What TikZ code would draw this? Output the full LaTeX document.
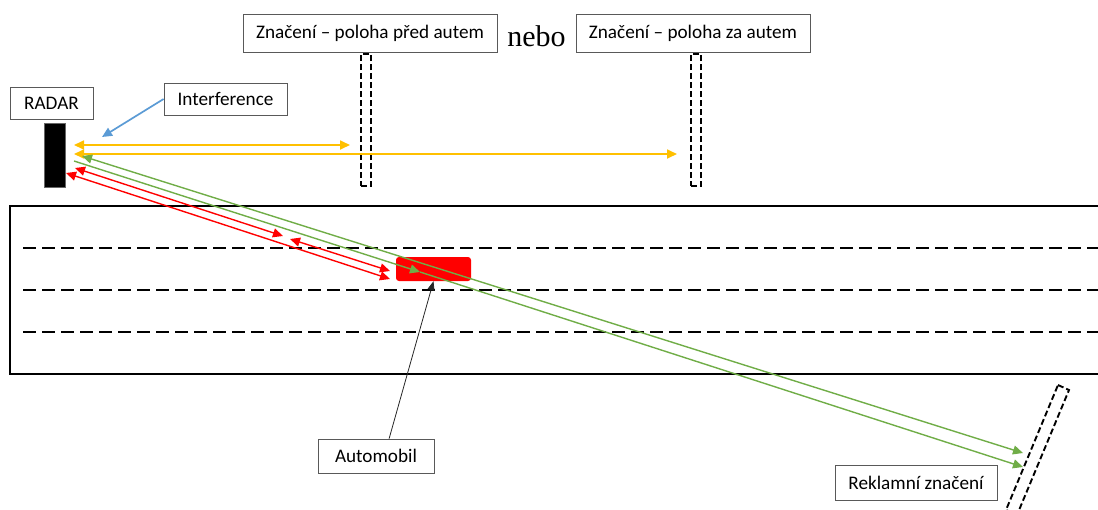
\documentclass[tikz,border=0pt]{standalone}
\usepackage{fontspec}
\setmainfont{Carlito}
\newfontfamily\serifnebo{Liberation Serif}
\usetikzlibrary{arrows.meta}
\definecolor{gold}{HTML}{FFC000}
\definecolor{lgreen}{HTML}{70AD47}
\definecolor{lblue}{HTML}{5B9BD5}
\definecolor{rred}{HTML}{FF0000}
\begin{document}
\begin{tikzpicture}[x=1pt,y=-1pt,font=\fontsize{19.2}{23}\selectfont,
  Tri/.tip={Triangle[length=10pt,width=9pt]},
  SmTri/.tip={Triangle[length=9pt,width=7pt]},
  lbl/.style={draw=black!65, line width=0.8pt, fill=white, inner sep=0pt, align=center},
  postbox/.style={draw=black, dash pattern=on 6pt off 3pt, line width=1.9pt, minimum width=10pt, minimum height=132pt, inner sep=0pt},
  road/.style={draw=black, line width=1.8pt},
  lane/.style={draw=black, line width=1.8pt, dash pattern=on 13pt off 6pt},
  yel/.style={draw=gold, line width=1.7pt, arrows={Tri-Tri}},
  grn/.style={draw=lgreen, line width=1.4pt},
  rd/.style={draw=rred, line width=1.4pt, arrows={Tri-Tri}}
]
\useasboundingbox (0,0) rectangle (1098,509);

% road
\draw[road] (1110,206) -- (10,206) -- (10,374) -- (1110,374);
\draw[lane] (23,248) -- (1110,248);
\draw[lane] (23,290) -- (1110,290);
\draw[lane] (23,332) -- (1110,332);

% labels
\node[lbl, minimum width=83pt, minimum height=32pt] (radarlbl) at (51.5,103) {RADAR};
\node[lbl, minimum width=123pt, minimum height=32pt] (interf) at (225.5,99) {Interference};
\node[lbl, minimum width=254pt, minimum height=38pt] (mark1) at (370,33) {Značení – poloha před autem};
\node[anchor=base, inner sep=0pt, font=\serifnebo\fontsize{30}{34}\selectfont] (nebo) at (536.5,46) {nebo};
\node[lbl, minimum width=234pt, minimum height=38pt] (mark2) at (693,33) {Značení – poloha za autem};
\node[lbl, minimum width=116pt, minimum height=34pt] (auto) at (376,456) {Automobil};
\node[lbl, minimum width=162pt, minimum height=35pt] (reklame) at (916,482.5) {Reklamní značení};

% radar, posts, car
\node[fill=black, draw=black!60, line width=0.6pt, minimum width=21pt, minimum height=64pt, inner sep=0pt] (radar) at (54.5,155) {};
\node[postbox] (post1) at (366,120) {};
\node[postbox] (post2) at (696,120) {};
\node[fill=rred, rounded corners=3pt, minimum width=75pt, minimum height=24pt, inner sep=0pt] (car) at (433.5,269) {};

% advertising sign (tilted)
\coordinate (s1) at (1058,385);
\coordinate (s2) at (1069,390);
\coordinate (s3) at (1017,515);
\coordinate (s4) at (1006,510);
\draw[draw=black, dash pattern=on 6pt off 3pt, line width=1.9pt] (s1) -- (s2) -- (s3) -- (s4) -- cycle;

% beam end points
\coordinate (intf) at (102,137);
\coordinate (y1s) at (74,145);
\coordinate (y1e) at (350,145);
\coordinate (y2s) at (74,154);
\coordinate (y2e) at (677,154);
\coordinate (g1s) at (82,156);
\coordinate (g1e) at (1023,453);
\coordinate (g2s) at (74,161);
\coordinate (g2m) at (420,272);
\coordinate (g2e) at (1023,467);
\coordinate (r1s) at (75,168);
\coordinate (r1m) at (283,236);
\coordinate (r1n) at (290,239);
\coordinate (r1e) at (390,271);
\coordinate (r2s) at (66,173);
\coordinate (r2e) at (390,279);

% beams
\draw[yel] (y1s) -- (y1e);
\draw[yel] (y2s) -- (y2e);
\draw[grn, arrows={Tri-Tri}] (g1s) -- (g1e);
\draw[grn, arrows={-Tri}] (g2s) -- (g2m);
\draw[grn, arrows={-Tri}] (g2m) -- (g2e);
\draw[rd] (r1s) -- (r1m);
\draw[rd] (r1n) -- (r1e);
\draw[rd] (r2s) -- (r2e);

% pointers
\draw[draw=lblue, line width=1.7pt, arrows={-Tri}] (interf.west) -- (intf);
\draw[draw=black!85, line width=0.8pt, arrows={-SmTri}] (auto.53) -- (car.south);
\end{tikzpicture}
\end{document}
